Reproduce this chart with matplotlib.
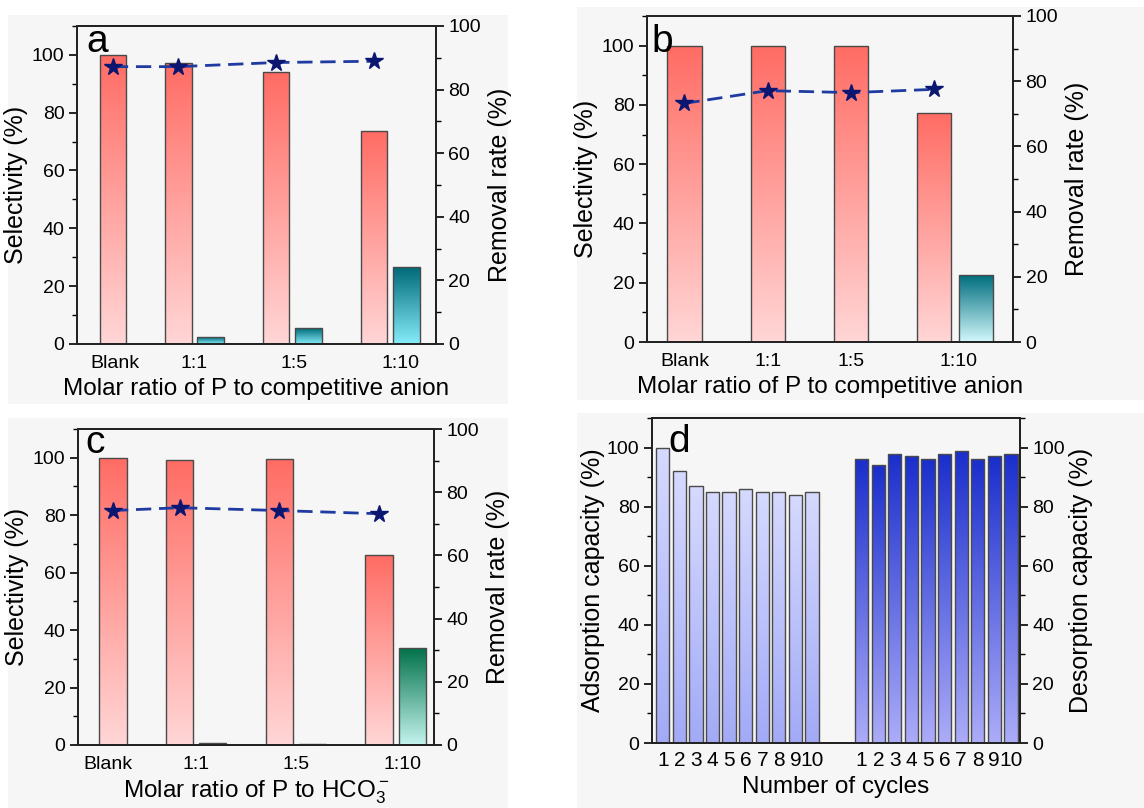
import numpy as np
import matplotlib
matplotlib.use("Agg")
import matplotlib.pyplot as plt
from matplotlib.colors import LinearSegmentedColormap
from matplotlib.patches import Rectangle
from matplotlib.ticker import MultipleLocator

plt.rcParams['font.family'] = ['Liberation Sans', 'DejaVu Sans']
plt.rcParams['mathtext.fontset'] = 'custom'
plt.rcParams['mathtext.rm'] = 'Liberation Sans'
plt.rcParams['mathtext.it'] = 'Liberation Sans:italic'

# ── data ──────────────────────────────────────
ratios = ["Blank", "1:1", "1:5", "1:10"]

a_sel = [100, 97.3, 94.0, 73.5]
a_comp = [0, 2.4, 5.5, 26.5]
a_rem = [87.2, 87.2, 88.5, 88.9]

b_sel = [100, 100, 100, 77.3]
b_comp = [0, 0, 0, 22.5]
b_rem = [73.2, 77.1, 76.5, 77.5]

c_sel = [100, 99.3, 99.6, 66.0]
c_comp = [0, 0.8, 0.3, 33.9]
c_rem = [74.2, 75.1, 74.2, 73.2]

cycles = [str(i) for i in range(1, 11)]
d_ads = [100, 92, 87, 85, 85, 86, 85, 85, 84, 85]
d_des = [96, 94, 98, 97, 96, 98, 99, 96, 97, 98]

BG = "#f6f6f6"
EDGE = "#4a4a4a"
RED = ("#ff6c64", "#ffd6d6")
TICK_FS = 14
YLAB_FS = 18
XLAB_FS = 17.5


def grad_bar(ax, x, h, w, c_top, c_bot):
    """Bar with vertical colour gradient (top -> bottom)."""
    bar = ax.bar(x, h, w, facecolor="none", edgecolor=EDGE,
                 linewidth=1.0, zorder=3)[0]
    cmap = LinearSegmentedColormap.from_list("g", [c_bot, c_top])
    grad = np.linspace(0, 1, 256).reshape(-1, 1)
    im = ax.imshow(grad, extent=[x - w / 2, x + w / 2, 0, h], origin="lower",
                   cmap=cmap, aspect="auto", zorder=2)
    im.set_clip_path(bar)


def style_axes(ax, ax2, ymax2):
    for a in (ax, ax2):
        for s in a.spines.values():
            s.set_linewidth(1.3)
            s.set_color("#222222")
    ax.set_ylim(0, 110)
    ax.yaxis.set_major_locator(MultipleLocator(20))
    ax.yaxis.set_minor_locator(MultipleLocator(10))
    ax2.set_ylim(0, ymax2)
    ax2.yaxis.set_major_locator(MultipleLocator(20))
    ax2.yaxis.set_minor_locator(MultipleLocator(10))
    for a in (ax, ax2):
        a.tick_params(axis="y", which="major", direction="out", length=6,
                      width=1.2, labelsize=TICK_FS, pad=3)
        a.tick_params(axis="y", which="minor", direction="out", length=3.5,
                      width=1.0)
    ax.tick_params(axis="x", length=0, labelsize=TICK_FS, pad=8)


def selectivity_panel(rect, red_x, comp_off, tick_x, sel, comp, rem,
                      comp_cols, xlabel, letter, letter_pos, xlim):
    ax = fig.add_axes(rect)
    ax.set_facecolor(BG)
    w = 0.82
    for x, v in zip(red_x, sel):
        grad_bar(ax, x, v, w, *RED)
    for x, v in zip(red_x, comp):
        if v > 0:
            grad_bar(ax, x + comp_off, v, w, *comp_cols)
    ax.set_xlim(*xlim)
    ax.set_xticks(tick_x)
    ax.set_xticklabels(ratios)
    ax.set_ylabel("Selectivity (%)", fontsize=YLAB_FS, labelpad=3)
    ax.set_xlabel(xlabel, fontsize=XLAB_FS, labelpad=4)
    ax2 = ax.twinx()
    ax2.plot(red_x, rem, linestyle=(0, (5.5, 2.8)), color="#1f3aa0", lw=2,
             marker="*", ms=13, mfc="#0b1670", mec="#0b1670", zorder=5)
    ax2.set_ylabel("Removal rate (%)", fontsize=YLAB_FS, labelpad=5)
    style_axes(ax, ax2, 100)
    ax.text(letter_pos[0], letter_pos[1], letter, transform=ax.transAxes,
            fontsize=28, ha="left", va="baseline")
    return ax


fig = plt.figure(figsize=(11.44, 8.08), dpi=100)
fig.patch.set_facecolor("white")

# light grey panel backgrounds
for (x0, y0, x1, y1) in [(8, 15, 508, 404), (577, 7, 1144, 400),
                         (8, 418, 508, 808), (577, 413, 1144, 808)]:
    fig.add_artist(Rectangle((x0 / 1144, 1 - y1 / 808), (x1 - x0) / 1144,
                             (y1 - y0) / 808, transform=fig.transFigure,
                             facecolor=BG, edgecolor="none", zorder=-5))

# panel a
selectivity_panel([0.0673, 0.5743, 0.3138, 0.3936], [0, 2, 5, 8], 1.0,
                  [0.05, 2.5, 5.55, 8.8], a_sel, a_comp, a_rem,
                  ("#006a78", "#86ecfa"),
                  "Molar ratio of P to competitive anion", "a",
                  (0.025, 0.918), (-1.1, 9.9))

# panel b
selectivity_panel([0.5656, 0.5767, 0.3199, 0.4035], [0, 2, 4, 6], 1.0,
                  [0, 2, 4, 6.6], b_sel, b_comp, b_rem,
                  ("#006e7e", "#d2f8fc"),
                  "Molar ratio of P to competitive anion", "b",
                  (0.012, 0.89), (-0.9, 7.9))

# panel c
selectivity_panel([0.0682, 0.0780, 0.3112, 0.3910], [0, 2, 5, 8], 1.0,
                  [-0.15, 2.5, 5.5, 8.7], c_sel, c_comp, c_rem,
                  ("#007048", "#c4f4ee"),
                  "Molar ratio of P to HCO$_3^-$", "c",
                  (0.02, 0.924), (-1.05, 9.65))

# panel d
ax = fig.add_axes([0.5699, 0.0804, 0.3217, 0.4022])
ax.set_facecolor(BG)
ads_x = np.arange(len(d_ads))
des_x = np.arange(len(d_des)) + len(d_ads) + 2
for x, v in zip(ads_x, d_ads):
    grad_bar(ax, x, v, 0.8, "#d6daff", "#a2aaf6")
for x, v in zip(des_x, d_des):
    grad_bar(ax, x, v, 0.8, "#1a2ecc", "#acacf8")
ax.set_xlim(-0.65, 21.55)
ax.set_xticks(list(ads_x) + list(des_x))
ax.set_xticklabels(cycles + cycles)
ax.set_ylabel("Adsorption capacity (%)", fontsize=YLAB_FS, labelpad=1)
ax.set_xlabel("Number of cycles", fontsize=XLAB_FS, labelpad=4)
ax2 = ax.twinx()
ax2.set_ylabel("Desorption capacity (%)", fontsize=YLAB_FS, labelpad=3)
style_axes(ax, ax2, 110)
ax.tick_params(axis="x", labelsize=15, pad=6)
ax.text(0.045, 0.895, "d", transform=ax.transAxes, fontsize=28,
        ha="left", va="baseline")

fig.savefig("out.png", dpi=100, facecolor=fig.get_facecolor())
